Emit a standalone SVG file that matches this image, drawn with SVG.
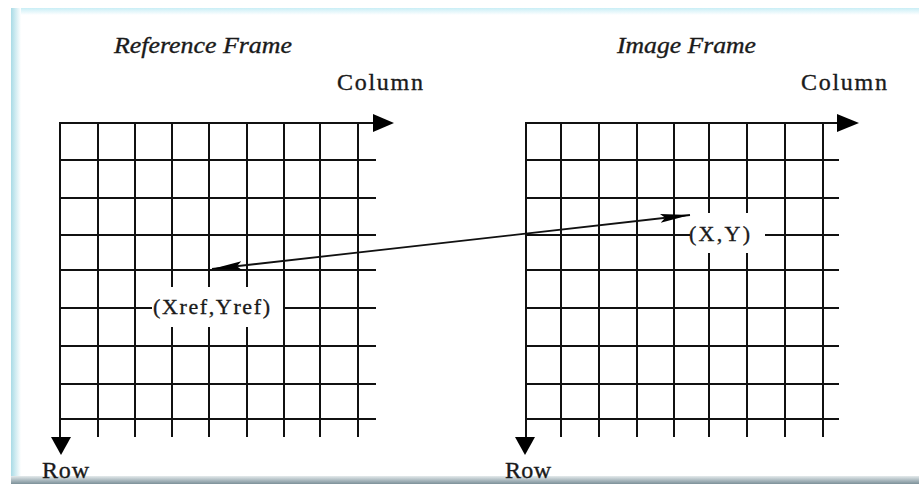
<svg xmlns="http://www.w3.org/2000/svg" width="919" height="484" viewBox="0 0 919 484">
<style>
.grid line{stroke:#111;stroke-width:2;fill:none}
.axis{fill:#000}
.t{font-family:"Liberation Serif","Times New Roman",serif;fill:#1a1a1a;stroke:#1a1a1a;stroke-width:0.35}
.title{font-style:italic;font-size:23px}
.ax{font-size:24px}
.lbl{font-size:22px}
.conn{stroke:#111;stroke-width:1.8;fill:none}
.bg{fill:#fff}
</style>
<defs>
<linearGradient id="gl" x1="0" y1="0" x2="1" y2="0">
<stop offset="0" stop-color="#a9dbe6"/><stop offset="1" stop-color="#ffffff"/>
</linearGradient>
<linearGradient id="gt" x1="0" y1="0" x2="0" y2="1">
<stop offset="0" stop-color="#c9eef6"/><stop offset="1" stop-color="#ffffff"/>
</linearGradient>
<linearGradient id="gb" x1="0" y1="0" x2="0" y2="1">
<stop offset="0" stop-color="#e4eaec"/><stop offset="0.5" stop-color="#aebcc2"/><stop offset="1" stop-color="#7d9199"/>
</linearGradient>
<marker id="ah" viewBox="0 0 30 12" refX="30" refY="6" markerWidth="30" markerHeight="12" markerUnits="userSpaceOnUse" orient="auto-start-reverse">
<path d="M0,1.5 L30,6 L0,10.5 L5,6 Z" fill="#000"/>
</marker>
</defs>
<rect x="0" y="0" width="919" height="484" fill="#fff"/>
<g id="border">
<rect x="11" y="8" width="908" height="7" fill="url(#gt)"/>
<rect x="11" y="8" width="10" height="470" fill="url(#gl)"/>
<polygon points="11,476 919,476 919,484 11,484" fill="url(#gb)"/>
</g>
<g id="reference-frame">
<g class="grid">
<line x1="60" y1="123" x2="376" y2="123"/>
<line x1="60" y1="160" x2="376" y2="160"/>
<line x1="60" y1="198" x2="376" y2="198"/>
<line x1="60" y1="235" x2="376" y2="235"/>
<line x1="60" y1="270" x2="376" y2="270"/>
<line x1="60" y1="308" x2="376" y2="308"/>
<line x1="60" y1="346" x2="376" y2="346"/>
<line x1="60" y1="384" x2="376" y2="384"/>
<line x1="60" y1="419" x2="376" y2="419"/>
<line x1="60" y1="122" x2="60" y2="440"/>
<line x1="98" y1="122" x2="98" y2="437"/>
<line x1="135" y1="122" x2="135" y2="437"/>
<line x1="172" y1="122" x2="172" y2="437"/>
<line x1="209" y1="122" x2="209" y2="437"/>
<line x1="247" y1="122" x2="247" y2="437"/>
<line x1="284" y1="122" x2="284" y2="437"/>
<line x1="320" y1="122" x2="320" y2="437"/>
<line x1="358" y1="122" x2="358" y2="437"/>
</g>
<polygon class="axis" points="373,114 394,123 373,132"/>
<polygon class="axis" points="51,437 71,437 61,455"/>
<text class="t title" x="114" y="53" textLength="178" lengthAdjust="spacingAndGlyphs">Reference Frame</text>
<text class="t ax" x="337" y="90" textLength="86" lengthAdjust="spacing">Column</text>
<text class="t ax" x="42" y="478" textLength="47" lengthAdjust="spacing">Row</text>
</g>
<g id="image-frame">
<g class="grid">
<line x1="526" y1="123" x2="839" y2="123"/>
<line x1="526" y1="160" x2="839" y2="160"/>
<line x1="526" y1="198" x2="839" y2="198"/>
<line x1="526" y1="235" x2="839" y2="235"/>
<line x1="526" y1="270" x2="839" y2="270"/>
<line x1="526" y1="308" x2="839" y2="308"/>
<line x1="526" y1="346" x2="839" y2="346"/>
<line x1="526" y1="384" x2="839" y2="384"/>
<line x1="526" y1="419" x2="839" y2="419"/>
<line x1="526" y1="122" x2="526" y2="440"/>
<line x1="561" y1="122" x2="561" y2="437"/>
<line x1="599" y1="122" x2="599" y2="437"/>
<line x1="637" y1="122" x2="637" y2="437"/>
<line x1="674" y1="122" x2="674" y2="437"/>
<line x1="709" y1="122" x2="709" y2="437"/>
<line x1="747" y1="122" x2="747" y2="437"/>
<line x1="785" y1="122" x2="785" y2="437"/>
<line x1="823" y1="122" x2="823" y2="437"/>
</g>
<polygon class="axis" points="837,114 859,123 837,132"/>
<polygon class="axis" points="515,437 535,437 525,455"/>
<text class="t title" x="617" y="53" textLength="139" lengthAdjust="spacingAndGlyphs">Image Frame</text>
<text class="t ax" x="801" y="90" textLength="86" lengthAdjust="spacing">Column</text>
<text class="t ax" x="505" y="478" textLength="46" lengthAdjust="spacing">Row</text>
</g>
<g id="point-ref">
<rect class="bg" x="152" y="287" width="131" height="40"/>
<text class="t lbl" x="153" y="314" textLength="117" lengthAdjust="spacing">(Xref,Yref)</text>
</g>
<g id="point-img">
<rect class="bg" x="690" y="213" width="75" height="40"/>
<text class="t lbl" x="689" y="241" textLength="61" lengthAdjust="spacing">(X,Y)</text>
</g>
<g id="connectors">
<line class="conn" x1="212" y1="269" x2="690" y2="215" marker-start="url(#ah)" marker-end="url(#ah)"/>
</g>
</svg>
